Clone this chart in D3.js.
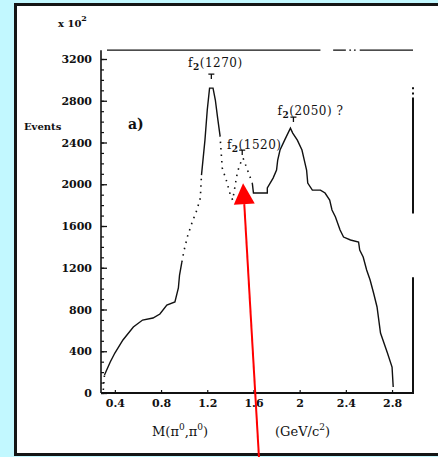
<!DOCTYPE html>
<html>
<head>
<meta charset="utf-8">
<script src="https://cdn.jsdelivr.net/npm/d3@7"></script>
<style>
  body { margin: 0; background: #c2f8ff; }
  svg { display: block; }
  text { font-family: "DejaVu Serif", serif; fill: #111; }
</style>
</head>
<body>
<svg id="chart"></svg>
<script>
// invariant mass of the pi0 pi0 pair (GeV/c^2) and events per bin (x 10^2 on the axis scale)
var massValues  = [0.30, 0.31, 0.36, 0.40, 0.47, 0.56, 0.64, 0.73, 0.79, 0.85, 0.92, 0.95, 0.96, 0.98,
                   1.00, 1.03, 1.07, 1.11, 1.14, 1.15, 1.18, 1.20, 1.22, 1.25, 1.27, 1.29, 1.31, 1.33,
                   1.37, 1.40, 1.42, 1.46, 1.48, 1.51, 1.59, 1.60, 1.66, 1.72, 1.72, 1.77, 1.80, 1.81,
                   1.83, 1.87, 1.92, 1.94, 1.98, 2.02, 2.04, 2.06, 2.07, 2.11, 2.18, 2.22, 2.26, 2.28,
                   2.31, 2.35, 2.38, 2.44, 2.51, 2.52, 2.55, 2.58, 2.61, 2.64, 2.67, 2.70, 2.76, 2.80, 2.81];
var eventValues = [29, 172, 297, 383, 508, 632, 699, 718, 757, 843, 872, 1006, 1130, 1255,
                   1370, 1504, 1638, 1753, 1868, 2088, 2423, 2711, 2921, 2921, 2807, 2634, 2471, 2155,
                   2021, 1897, 1849, 2107, 2184, 2251, 2011, 1916, 1916, 1916, 1964, 2059, 2136, 2232,
                   2328, 2423, 2538, 2490, 2423, 2328, 2232, 2136, 2011, 1944, 1944, 1916, 1849, 1753,
                   1686, 1561, 1494, 1466, 1447, 1370, 1303, 1178, 1082, 958, 824, 575, 383, 249, 57];

var yTickValues = [0, 400, 800, 1200, 1600, 2000, 2400, 2800, 3200];
var yTickLabels = ["0", "400", "800", "1200", "1600", "2000", "2400", "2800", "3200"];
var xTickValues = [0.4, 0.8, 1.2, 1.6, 2.0, 2.4, 2.8];
var xTickLabels = ["0.4", "0.8", "1.2", "1.6", "2", "2.4", "2.8"];

// resonances marked on the spectrum
var resonanceMass   = [1.27, 1.52, 2.05];
var resonanceEvents = [2921, 2251, 2538];
var resonanceLabels = ["(1270)", "(1520)", "(2050) ?"];

// the pointer drawn up onto the dip
var pointerMass = 1.51;
var pointerEvents = 2010;

var data = massValues.map(function(m, i) { return { mass: m, events: eventValues[i] }; });

var width  = 438;
var height = 457;

var svg = d3.select('#chart')
            .attr('width', width)
            .attr('height', height);

// white page with the dark rule round it
svg.append('rect')
   .attr('x', 15.5).attr('y', 4.5)
   .attr('width', 440).attr('height', 450)
   .attr('fill', '#fff')
   .attr('stroke', '#151515')
   .attr('stroke-width', 3);

var xScale = d3.scaleLinear()
               .domain([0.28, 2.99])
               .range([101, 414]);

var yScale = d3.scaleLinear()
               .domain([0, 3200])
               .range([393, 59]);

var chartGroup = svg.append('g');

// frame: left and bottom solid, top and right broken as on the print
var xL = xScale.range()[0], xR = xScale.range()[1] - 1;
var yTop = yScale(3285);

function rule(x1, y1, x2, y2, w) {
  chartGroup.append('line')
            .attr('x1', x1).attr('y1', y1)
            .attr('x2', x2).attr('y2', y2)
            .attr('stroke', '#111')
            .attr('stroke-width', w);
}

rule(xL, yTop, xL, yScale(0), 1.6);
rule(xL, yScale(0), xScale.range()[1], yScale(0), 1.8);

// top edge: long run, short dash, two dots, then the last run
rule(xL + 6, yTop, xScale(2.18), yTop, 1.3);
rule(xScale(2.29), yTop, xScale(2.40), yTop, 1.3);
rule(xScale(2.43), yTop, xScale(2.445), yTop, 1.3);
rule(xScale(2.47), yTop, xScale(2.485), yTop, 1.3);
rule(xScale(2.52), yTop, xR, yTop, 1.3);

// right edge: a couple of specks, then two runs with a gap between
rule(xR, yScale(2930), xR, yScale(2910), 2);
rule(xR, yScale(2880), xR, yScale(2860), 2);
rule(xR, yScale(2830), xR, yScale(1720), 2);
rule(xR, yScale(1110), xR, yScale(0), 2);

// y axis: major and minor ticks pointing inwards
var yMinor = d3.range(0, 3300, 100);
chartGroup.append('g')
          .attr('transform', 'translate(' + xL + ',0)')
          .call(d3.axisLeft(yScale).tickValues(yMinor).tickSize(-3).tickFormat(''))
          .call(function(g) { g.select('.domain').remove(); })
          .selectAll('line').attr('stroke', '#111').attr('stroke-width', 1.2);

var yAxis = d3.axisLeft(yScale)
              .tickValues(yTickValues)
              .tickSize(-6)
              .tickPadding(9)
              .tickFormat(function(d, i) { return yTickLabels[i]; });

chartGroup.append('g')
          .attr('class', 'y_axis')
          .attr('transform', 'translate(' + xL + ',0)')
          .call(yAxis)
          .call(function(g) { g.select('.domain').remove(); })
          .call(function(g) { g.selectAll('line').attr('stroke', '#111').attr('stroke-width', 1.3); })
          .selectAll('text')
          .style('font-family', '"DejaVu Serif", serif')
          .style('font-size', '11px')
          .style('font-weight', 'bold')
          .attr('fill', '#111');

var xAxis = d3.axisBottom(xScale)
              .tickValues(xTickValues)
              .tickSize(-3)
              .tickPadding(6)
              .tickFormat(function(d, i) { return xTickLabels[i]; });

chartGroup.append('g')
          .attr('class', 'x_axis')
          .attr('transform', 'translate(0,' + yScale(0) + ')')
          .call(xAxis)
          .call(function(g) { g.select('.domain').remove(); })
          .call(function(g) { g.selectAll('line').attr('stroke', '#111').attr('stroke-width', 1.2); })
          .selectAll('text')
          .style('font-family', '"DejaVu Serif", serif')
          .style('font-size', '11px')
          .style('font-weight', 'bold')
          .attr('fill', '#111');

// the spectrum: solid trace with the poorly printed stretches dotted
var dottedSpans = [[0.99, 1.15], [1.32, 1.59], [0.30, 0.33]];
function isDotted(a, b) {
  var mid = (a.mass + b.mass) / 2;
  return dottedSpans.some(function(s) { return mid >= s[0] && mid <= s[1]; });
}

var line = d3.line()
             .x(function(d) { return xScale(d.mass); })
             .y(function(d) { return yScale(d.events); });

var pieces = [];
for (var i = 0; i < data.length - 1; i++) {
  var dotted = isDotted(data[i], data[i + 1]);
  var last = pieces[pieces.length - 1];
  if (last && last.dotted === dotted) {
    last.points.push(data[i + 1]);
  } else {
    pieces.push({ dotted: dotted, points: [data[i], data[i + 1]] });
  }
}

chartGroup.selectAll('path.trace')
          .data(pieces)
          .enter()
          .append('path')
          .attr('class', 'trace')
          .attr('d', function(d) { return line(d.points); })
          .attr('fill', 'none')
          .attr('stroke', '#111')
          .attr('stroke-width', function(d) { return d.dotted ? 1.6 : 1.4; })
          .attr('stroke-dasharray', function(d) { return d.dotted ? '1.5,5' : null; });

// resonance labels f2(...)
var labelShift = [{ dx: 0, dy: -21 }, { dx: 10, dy: -9 }, { dx: 5, dy: -13 }];
var labels = chartGroup.selectAll('text.res')
                       .data(resonanceMass)
                       .enter()
                       .append('text')
                       .attr('class', 'res')
                       .attr('x', function(d, i) { return xScale(d) + labelShift[i].dx; })
                       .attr('y', function(d, i) { return yScale(resonanceEvents[i]) + labelShift[i].dy; })
                       .attr('text-anchor', 'middle')
                       .style('font-size', '12px')
                       .style('letter-spacing', '0.5px');
labels.append('tspan').text('f');
labels.append('tspan').attr('dy', 3).style('font-size', '9px').style('font-weight', 'bold').text('2');
labels.append('tspan').attr('dy', -3).text(function(d, i) { return resonanceLabels[i]; });

// little carets under the labels
var caretShift = [{ dx: -4, dy: -12 }, { dx: -2, dy: -6 }, { dx: -12, dy: -9 }];
chartGroup.selectAll('path.caret')
          .data(resonanceMass)
          .enter()
          .append('path')
          .attr('class', 'caret')
          .attr('d', function(d, i) {
            var cx = xScale(d) + caretShift[i].dx;
            var cy = yScale(resonanceEvents[i]) + caretShift[i].dy;
            return 'M' + (cx - 3) + ',' + (cy - 2) + 'L' + (cx + 3) + ',' + (cy - 2) + 'M' + cx + ',' + (cy - 2) + 'L' + cx + ',' + (cy + 3);
          })
          .attr('stroke', '#111')
          .attr('stroke-width', 1.3)
          .attr('fill', 'none');

// panel letter
chartGroup.append('text')
          .attr('x', 128).attr('y', 129)
          .style('font-size', '14px')
          .style('font-weight', 'bold')
          .text('a)');

// axis titles
svg.append('text')
   .attr('x', 24).attr('y', 130)
   .style('font-size', '10px')
   .style('font-weight', 'bold')
   .text('Events');

var scaleNote = svg.append('text')
                   .attr('x', 58).attr('y', 27)
                   .style('font-size', '10px')
                   .style('font-weight', 'bold');
scaleNote.append('tspan').text('x 10');
scaleNote.append('tspan').attr('dy', -6).style('font-size', '8px').text('2');

var massTitle = svg.append('text')
                   .attr('x', 152).attr('y', 436)
                   .style('font-size', '13px');
massTitle.append('tspan').text('M(π');
massTitle.append('tspan').attr('dy', -6).style('font-size', '9px').text('0');
massTitle.append('tspan').attr('dy', 6).text(',π');
massTitle.append('tspan').attr('dy', -6).style('font-size', '9px').text('0');
massTitle.append('tspan').attr('dy', 6).text(')');

var unitTitle = svg.append('text')
                   .attr('x', 275).attr('y', 436)
                   .style('font-size', '13px');
unitTitle.append('tspan').text('(GeV/c');
unitTitle.append('tspan').attr('dy', -6).style('font-size', '9px').text('2');
unitTitle.append('tspan').attr('dy', 6).text(')');

// red pointer from below the page up to the dip
var tipX = xScale(pointerMass);
var tipY = yScale(pointerEvents);
var tailX = tipX + 16;
var tailY = height + 2;
var ang = Math.atan2(tipY - tailY, tipX - tailX);
var headLen = 21, headHalf = 10.5;
var baseX = tipX - headLen * Math.cos(ang);
var baseY = tipY - headLen * Math.sin(ang);
var nx = -Math.sin(ang), ny = Math.cos(ang);

svg.append('line')
   .attr('x1', tailX).attr('y1', tailY)
   .attr('x2', baseX).attr('y2', baseY)
   .attr('stroke', '#ff0000')
   .attr('stroke-width', 2);

svg.append('path')
   .attr('d', 'M' + tipX + ',' + tipY +
              'L' + (baseX + nx * headHalf) + ',' + (baseY + ny * headHalf) +
              'L' + (baseX - nx * headHalf) + ',' + (baseY - ny * headHalf) + 'Z')
   .attr('fill', '#ff0000');
</script>
</body>
</html>
